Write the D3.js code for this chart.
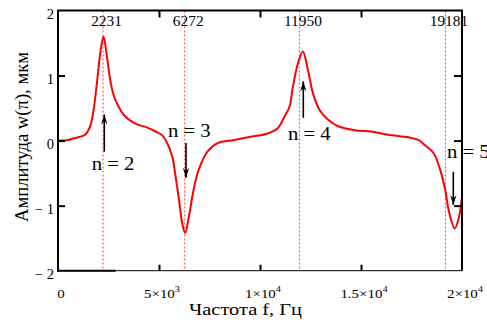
<!DOCTYPE html>
<html>
<head>
<meta charset="UTF-8">
<title>Амплитуда w(π)</title>
<script src="https://cdn.jsdelivr.net/npm/d3@7"></script>
<style>
    body { margin: 0; background: #fff; }
</style>
</head>
<body>
<div id="chart"></div>
<script>
    // frequency (Hz) and amplitude (mkm)
    const freq = [0, 500, 850, 1340, 1590, 1760, 1925, 2090, 2255, 2420, 2590, 2750, 3000, 3330, 3830, 4330,
        4830, 5160, 5410, 5660, 5820, 5990, 6150, 6290, 6480, 6650, 6820, 7060, 7400, 7900, 8720, 9550,
        10380, 10880, 11210, 11460, 11630, 11880, 12120, 12370, 12620, 12950, 13370, 13870, 14690, 15520,
        16350, 17350, 17840, 18170, 18590, 18920, 19170, 19340, 19640, 19840, 20000];
    const ampl = [0, 0.01, 0.04, 0.09, 0.22, 0.47, 0.88, 1.34, 1.6, 1.29, 0.93, 0.70, 0.52, 0.37, 0.26, 0.21,
        0.14, 0.08, -0.04, -0.25, -0.55, -0.91, -1.27, -1.42, -1.17, -0.86, -0.60, -0.37, -0.17, -0.04, 0.01, 0.06,
        0.11, 0.19, 0.37, 0.52, 0.83, 1.19, 1.37, 1.09, 0.73, 0.47, 0.32, 0.22, 0.16, 0.14,
        0.09, 0.05, 0.01, -0.07, -0.19, -0.45, -0.76, -1.07, -1.35, -1.19, -0.86];

    // resonance frequencies (dotted markers)
    const resonances = [2231, 6272, 11950, 19181];

    // mode annotations: label, arrow frequency, arrow start / tip, label anchor
    const modeLabels = ["n = 2", "n = 3", "n = 4", "n = 5"];
    const arrowFreq = [2292, 6337, 12144, 19570];
    const arrowFrom = [-0.17, -0.035, 0.35, -0.48];
    const arrowTo = [0.40, -0.57, 0.91, -0.99];
    const labelFreq = [1668, 5446, 11386, 19257];
    const labelAmpl = [-0.45, 0.057, 0.01, -0.27];

    const xTicks = [0, 5000, 10000, 15000, 20000];
    const xTickBase = ["0", "5×10", "1×10", "1.5×10", "2×10"];
    const xTickExp = ["", "3", "4", "4", "4"];
    const yTicks = [2, 1, 0, -1, -2];
    const yTickLabels = ["2", "1", "0", "− 1", "− 2"];

    const width = 487, height = 325;
    const svg = d3.select("#chart").append("svg")
        .attr("width", width).attr("height", height);

    // serif face set directly on each text; MathCAD text is drawn a bit wide, hence the x-stretch
    const label = (sel, size) => sel.style("font-family", '"Liberation Serif"').style("font-size", size + "px").attr("fill", "#000");
    const stretch = (px, py, sx, rot) => `translate(${px},${py})` + (rot ? ` rotate(${rot})` : "") + ` scale(${sx},1)`;

    const x = d3.scaleLinear().domain([0, 20000]).range([58, 462]);
    const y = d3.scaleLinear().domain([-2, 2]).range([270.7, 10.5]);

    // dotted resonance lines
    svg.selectAll("line.res")
        .data(resonances)
        .enter().append("line")
        .attr("class", "res")
        .attr("x1", d => x(d)).attr("x2", d => x(d))
        .attr("y1", y(2)).attr("y2", y(-2))
        .attr("stroke", "#f44").attr("stroke-width", 1)
        .attr("stroke-dasharray", "2,2");

    svg.selectAll("text.res")
        .data(resonances)
        .enter().append("text")
        .attr("class", "res")
        .attr("transform", d => stretch(x(d) + 3.5, 26, 1.1))
        .attr("text-anchor", "middle")
        .call(label, 14)
        .text(d => d);

    // curve
    const line = d3.line()
        .x((d, i) => x(freq[i]))
        .y(d => y(d))
        .curve(d3.curveCatmullRom);
    svg.append("path")
        .datum(ampl)
        .attr("d", line)
        .attr("fill", "none")
        .attr("stroke", "#ff0000")
        .attr("stroke-width", 2);

    // frame
    const frame = svg.append("g").attr("stroke", "#000").attr("fill", "none");
    frame.append("line").attr("x1", x(0) - 1).attr("x2", x(20000) + 1).attr("y1", y(2)).attr("y2", y(2)).attr("stroke-width", 2);
    frame.append("line").attr("x1", x(0)).attr("x2", x(0)).attr("y1", y(2)).attr("y2", y(-2) + 1).attr("stroke-width", 2);
    frame.append("line").attr("x1", x(20000)).attr("x2", x(20000)).attr("y1", y(2)).attr("y2", y(-2)).attr("stroke-width", 2);
    frame.append("line").attr("x1", x(0)).attr("x2", x(20000)).attr("y1", y(-2)).attr("y2", y(-2)).attr("stroke-width", 1);
    frame.append("line").attr("x1", x(0) - 1).attr("x2", x(2850)).attr("y1", y(-2)).attr("y2", y(-2)).attr("stroke-width", 2);

    // inner ticks via axes
    const inner = [5000, 10000, 15000];
    const yInner = [1, 0, -1];
    const tickAxis = (g) => { g.select(".domain").remove(); g.selectAll("line").attr("stroke-width", 2); g.selectAll("text").remove(); };
    svg.append("g").attr("transform", `translate(0,${y(2)})`)
        .call(d3.axisTop(x).tickValues(inner).tickSize(-7)).call(tickAxis);
    svg.append("g").attr("transform", `translate(0,${y(-2)})`)
        .call(d3.axisBottom(x).tickValues(inner).tickSize(-6)).call(tickAxis);
    svg.append("g").attr("transform", `translate(${x(0)},0)`)
        .call(d3.axisLeft(y).tickValues(yInner).tickSize(-7)).call(tickAxis);
    svg.append("g").attr("transform", `translate(${x(20000)},0)`)
        .call(d3.axisRight(y).tickValues(yInner).tickSize(-8)).call(tickAxis);

    // tick labels
    svg.selectAll("text.ytick")
        .data(yTicks)
        .enter().append("text")
        .attr("class", "ytick")
        .attr("transform", d => stretch(54, y(d) + 8, 1.05))
        .attr("text-anchor", "end")
        .call(label, 14)
        .style("white-space", "pre")
        .text((d, i) => yTickLabels[i]);

    const xt = svg.selectAll("text.xtick")
        .data(xTicks)
        .enter().append("text")
        .attr("class", "xtick")
        .attr("transform", d => stretch(x(d) + 3, 297.5, 1.15))
        .attr("text-anchor", "middle")
        .call(label, 13);
    xt.append("tspan").text((d, i) => xTickBase[i]);
    xt.append("tspan").attr("dy", -6).style("font-size", "9px").text((d, i) => xTickExp[i]);

    // axis titles
    svg.append("text")
        .attr("transform", stretch(28, 137, 1, -90))
        .attr("text-anchor", "middle")
        .call(label, 19)
        .attr("textLength", 170).attr("lengthAdjust", "spacingAndGlyphs")
        .text("Амплитуда w(π), мкм");
    svg.append("text")
        .attr("transform", stretch(245.5, 315, 1.2))
        .attr("text-anchor", "middle")
        .call(label, 17)
        .text("Частота f, Гц");

    // mode arrows: shaft plus a narrow head at the tip
    svg.selectAll("line.arrow")
        .data(arrowFreq)
        .enter().append("line")
        .attr("class", "arrow")
        .attr("x1", d => x(d)).attr("x2", d => x(d))
        .attr("y1", (d, i) => y(arrowFrom[i])).attr("y2", (d, i) => y(arrowTo[i]))
        .attr("stroke", "#000").attr("stroke-width", 1.6);

    svg.selectAll("path.head")
        .data(arrowFreq)
        .enter().append("path")
        .attr("class", "head")
        .attr("d", (d, i) => {
            const tx = x(d), ty = y(arrowTo[i]);
            const s = arrowTo[i] > arrowFrom[i] ? 1 : -1; // 1 = pointing up
            return `M${tx},${ty} L${tx - 3.2},${ty + s * 10} L${tx},${ty + s * 6.5} L${tx + 3.2},${ty + s * 10} Z`;
        })
        .attr("fill", "#000");

    svg.selectAll("text.mode")
        .data(modeLabels)
        .enter().append("text")
        .attr("class", "mode")
        .attr("transform", (d, i) => stretch(x(labelFreq[i]), y(labelAmpl[i]), 1.15))
        .call(label, 18)
        .style("white-space", "pre")
        .text(d => d);
</script>
</body>
</html>
